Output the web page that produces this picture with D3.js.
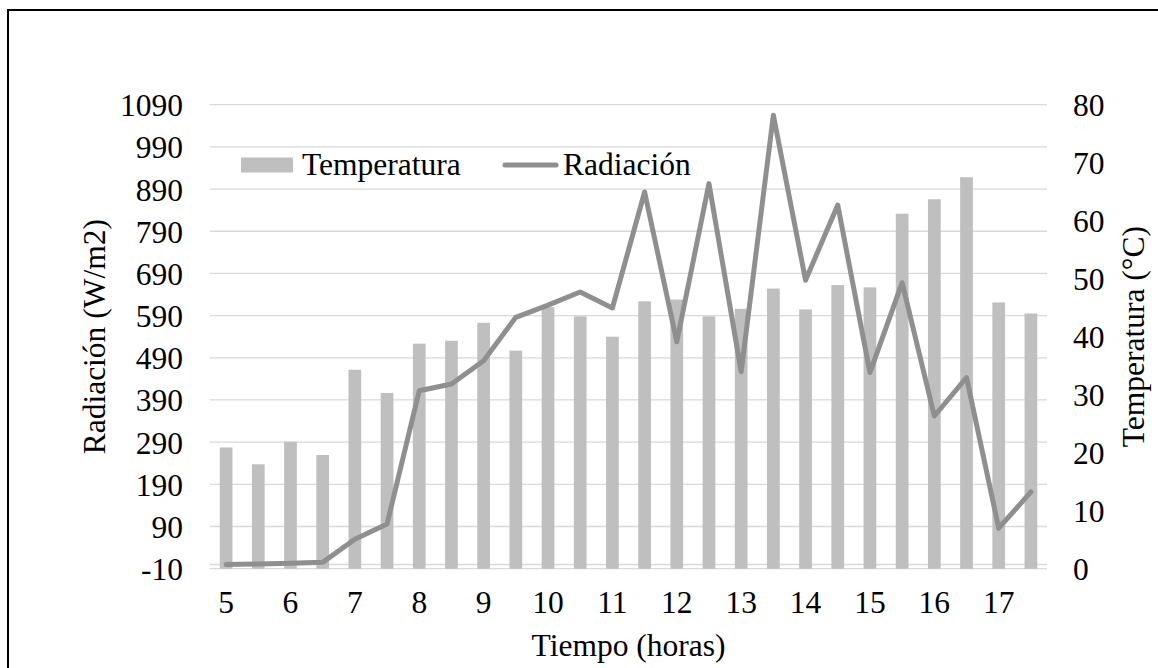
<!DOCTYPE html>
<html>
<head>
<meta charset="utf-8">
<script src="https://cdn.jsdelivr.net/npm/d3@7/dist/d3.min.js"></script>
<style>
	html,body{margin:0;padding:0;background:#fff;}
	svg{display:block;}
	svg text{font-family:"Times New Roman","Liberation Serif","DejaVu Serif",serif;fill:#000;}
</style>
</head>
<body>
<div id="container"></div>
<script>
// hours of the day, every half hour
var horas = [5,5.5,6,6.5,7,7.5,8,8.5,9,9.5,10,10.5,11,11.5,12,12.5,13,13.5,14,14.5,15,15.5,16,16.5,17,17.5];

// temperatura (°C), right axis, bars
var temperatura = [20.9,18.0,21.9,19.6,34.3,30.3,38.8,39.3,42.4,37.6,45.1,43.5,40.0,46.1,46.4,43.5,44.8,48.3,44.7,48.9,48.5,61.2,63.7,67.5,45.9,44.0];

// radiacion (W/m2), left axis, line
var radiacion = [0,1,3,5,60,96,412,428,483,586,615,646,608,883,528,903,457,1065,674,852,455,668,352,443,86,172];

var ticksRad = [-10,90,190,290,390,490,590,690,790,890,990,1090];
var ticksTemp = [0,10,20,30,40,50,60,70,80];

var serif = '"Times New Roman","Liberation Serif","DejaVu Serif",serif';

var self = {
	w:1158,
	h:668,
	plot:{left:210,right:1047,top:104.7,bottom:568.7},
	colors:{
		bar:'#bfbfbf',
		line:'#8f8f8f',
		grid:'#d9d9d9'
	},
	fontSize:31.5
};

self.svg = d3.select('#container').append('svg')
	.attr('width',self.w)
	.attr('height',self.h)
	.style('font-family',serif);

//outer frame
self.svg.append('rect')
	.attr('x',8).attr('y',10)
	.attr('width',self.w)
	.attr('height',self.h)
	.style('fill','none')
	.style('stroke','#000')
	.style('stroke-width',2);

var p = self.plot;

var x = d3.scaleBand()
	.domain(horas)
	.range([p.left,p.right])
	.padding(0);
var yRad = d3.scaleLinear()
	.domain([-10,1090])
	.range([p.bottom,p.top]);
var yTemp = d3.scaleLinear()
	.domain([0,80])
	.range([p.bottom,p.top]);

var barW = x.bandwidth()*0.395;
var fmt = function(d){ return String(d); };	//plain hyphen, no thousands comma

//gridlines (left axis)
self.svg.append('g').selectAll('line.grid')
	.data(ticksRad)
	.enter().append('line')
	.classed('grid',true)
	.attr('x1',p.left).attr('x2',p.right)
	.attr('y1',function(d){ return yRad(d); })
	.attr('y2',function(d){ return yRad(d); })
	.style('stroke',self.colors.grid)
	.style('stroke-width',1.3);

//category axis line crosses at 0
self.svg.append('line')
	.attr('x1',p.left).attr('x2',p.right)
	.attr('y1',yRad(0)).attr('y2',yRad(0))
	.style('stroke',self.colors.grid)
	.style('stroke-width',1.3);

//bars
self.svg.append('g').selectAll('rect.bar')
	.data(temperatura)
	.enter().append('rect')
	.classed('bar',true)
	.attr('x',function(d,i){ return x(horas[i]) +x.bandwidth()/2 -barW/2; })
	.attr('width',barW)
	.attr('y',function(d){ return yTemp(d); })
	.attr('height',function(d){ return yTemp(0) -yTemp(d); })
	.style('fill',self.colors.bar);

//line
var line = d3.line()
	.x(function(d,i){ return x(horas[i]) +x.bandwidth()/2; })
	.y(function(d){ return yRad(d); });
self.svg.append('path')
	.datum(radiacion)
	.attr('d',line)
	.style('fill','none')
	.style('stroke',self.colors.line)
	.style('stroke-width',5)
	.style('stroke-linejoin','round')
	.style('stroke-linecap','round');

function styleAxis(g){
	g.attr('font-family',serif).attr('font-size',self.fontSize);
	g.select('.domain').remove();
	g.selectAll('text')
		.attr('dy',null)
		.style('font-family',serif)
		.style('font-size',self.fontSize +'px')
		.style('fill','#000');
}

//left axis labels
var gL = self.svg.append('g')
	.attr('transform','translate(183,0)')
	.call(d3.axisLeft(yRad).tickValues(ticksRad).tickFormat(fmt).tickSize(0).tickPadding(0));
styleAxis(gL);
gL.selectAll('text').attr('y',11);

//right axis labels
var gR = self.svg.append('g')
	.attr('transform','translate(1073,0)')
	.call(d3.axisRight(yTemp).tickValues(ticksTemp).tickFormat(fmt).tickSize(0).tickPadding(0));
styleAxis(gR);
gR.selectAll('text').attr('y',11);

//x axis labels, whole hours only
var gB = self.svg.append('g')
	.call(d3.axisBottom(x)
		.tickValues(horas.filter(function(d){ return d %1 === 0; }))
		.tickFormat(fmt)
		.tickSize(0).tickPadding(0));
styleAxis(gB);
gB.selectAll('text').attr('y',613);

//axis titles
self.svg.append('text')
	.attr('transform','translate(105,' +((p.top+p.bottom)/2) +')rotate(-90)')
	.attr('text-anchor','middle')
	.style('font-size',self.fontSize +'px')
	.text('Radiación (W/m2)');
self.svg.append('text')
	.attr('transform','translate(1144,' +((p.top+p.bottom)/2) +')rotate(-90)')
	.attr('text-anchor','middle')
	.style('font-size',self.fontSize +'px')
	.text('Temperatura (°C)');
self.svg.append('text')
	.attr('x',(p.left+p.right)/2)
	.attr('y',656)
	.attr('text-anchor','middle')
	.style('font-size',self.fontSize +'px')
	.text('Tiempo (horas)');

//legend
var leg = self.svg.append('g');
leg.append('rect')
	.attr('x',241).attr('y',157.5)
	.attr('width',52).attr('height',15)
	.style('fill',self.colors.bar);
leg.append('text')
	.attr('x',302).attr('y',175)
	.style('font-size',self.fontSize +'px')
	.text('Temperatura');
leg.append('line')
	.attr('x1',505).attr('x2',556)
	.attr('y1',165).attr('y2',165)
	.style('stroke',self.colors.line)
	.style('stroke-width',5)
	.style('stroke-linecap','round');
leg.append('text')
	.attr('x',563).attr('y',175)
	.style('font-size',self.fontSize +'px')
	.text('Radiación');
</script>
</body>
</html>
